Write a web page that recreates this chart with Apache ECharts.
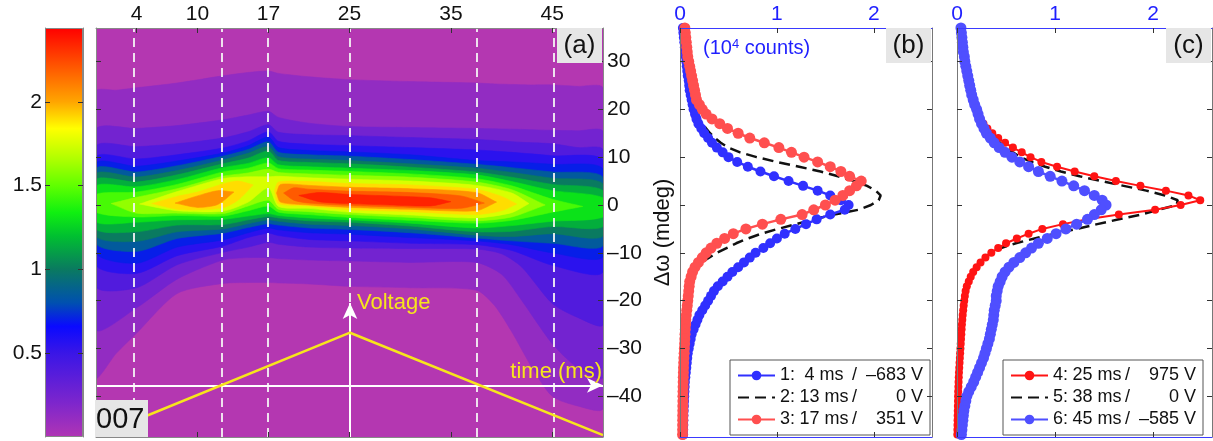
<!DOCTYPE html>
<html>
<head>
<meta charset="utf-8">
<script src="https://cdn.jsdelivr.net/npm/echarts@6.0.0/dist/echarts.min.js"></script>
<style>
  html, body { margin: 0; padding: 0; background: #fff; }
  #chart { width: 1213px; height: 441px; }
</style>
</head>
<body>
<div id="chart"></div>
<script>
// rocking-curve cuts: omega (mdeg) from top to bottom, intensity in 10^4 counts
const omega = [
  37, 36, 35, 34, 33, 32, 31, 30, 29, 28,
  27, 26, 25, 24, 23, 22, 21, 20, 19, 18,
  17, 16, 15, 14, 13, 12, 11, 10, 9, 8,
  7, 6, 5, 4, 3, 2, 1, 0, -1, -2,
  -3, -4, -5, -6, -7, -8, -9, -10, -11, -12,
  -13, -14, -15, -16, -17, -18, -19, -20, -21, -22,
  -23, -24, -25, -26, -27, -28, -29, -30, -31, -32,
  -33, -34, -35, -36, -37, -38, -39, -40, -41, -42,
  -43, -44, -45, -46, -47, -48
];
const cut4ms = [
  0.030, 0.035, 0.040, 0.045, 0.050, 0.055, 0.060, 0.065, 0.070, 0.075,
  0.080, 0.090, 0.095, 0.100, 0.110, 0.120, 0.130, 0.140, 0.155, 0.170,
  0.190, 0.220, 0.250, 0.290, 0.330, 0.380, 0.440, 0.500, 0.590, 0.700,
  0.830, 0.970, 1.120, 1.270, 1.420, 1.550, 1.660, 1.740, 1.700, 1.550,
  1.410, 1.300, 1.190, 1.080, 1.000, 0.930, 0.860, 0.780, 0.720, 0.660,
  0.600, 0.540, 0.490, 0.440, 0.390, 0.350, 0.320, 0.290, 0.260, 0.230,
  0.200, 0.180, 0.160, 0.140, 0.120, 0.110, 0.100, 0.090, 0.080, 0.075,
  0.070, 0.065, 0.060, 0.055, 0.050, 0.048, 0.046, 0.044, 0.042, 0.040,
  0.038, 0.036, 0.035, 0.034, 0.033, 0.032
];
const cut13ms = [
  0.040, 0.045, 0.050, 0.055, 0.060, 0.065, 0.070, 0.075, 0.080, 0.085,
  0.090, 0.100, 0.105, 0.110, 0.120, 0.130, 0.145, 0.160, 0.180, 0.200,
  0.230, 0.270, 0.310, 0.360, 0.420, 0.500, 0.620, 0.790, 1.000, 1.230,
  1.450, 1.630, 1.800, 1.930, 2.020, 2.070, 2.050, 1.970, 1.840, 1.590,
  1.380, 1.200, 1.010, 0.840, 0.700, 0.580, 0.480, 0.380, 0.300, 0.220,
  0.160, 0.130, 0.115, 0.100, 0.095, 0.090, 0.085, 0.080, 0.075, 0.070,
  0.065, 0.060, 0.058, 0.055, 0.052, 0.050, 0.048, 0.045, 0.043, 0.040,
  0.038, 0.036, 0.035, 0.034, 0.033, 0.032, 0.031, 0.030, 0.030, 0.029,
  0.029, 0.028, 0.028, 0.027, 0.027, 0.026
];
const cut17ms = [
  0.050, 0.055, 0.060, 0.065, 0.070, 0.075, 0.080, 0.090, 0.100, 0.110,
  0.120, 0.130, 0.140, 0.150, 0.160, 0.170, 0.200, 0.230, 0.270, 0.330,
  0.410, 0.490, 0.600, 0.720, 0.870, 1.020, 1.150, 1.280, 1.420, 1.550,
  1.660, 1.750, 1.870, 1.820, 1.750, 1.680, 1.600, 1.500, 1.380, 1.260,
  1.040, 0.850, 0.680, 0.550, 0.460, 0.380, 0.320, 0.270, 0.230, 0.190,
  0.155, 0.130, 0.115, 0.100, 0.095, 0.090, 0.085, 0.080, 0.075, 0.070,
  0.065, 0.060, 0.058, 0.055, 0.052, 0.050, 0.048, 0.045, 0.043, 0.040,
  0.038, 0.036, 0.035, 0.034, 0.033, 0.032, 0.031, 0.030, 0.030, 0.029,
  0.029, 0.028, 0.028, 0.027, 0.027, 0.026
];
const cut25ms = [
  0.040, 0.045, 0.050, 0.055, 0.060, 0.065, 0.070, 0.075, 0.080, 0.090,
  0.100, 0.110, 0.120, 0.135, 0.150, 0.165, 0.180, 0.195, 0.215, 0.240,
  0.270, 0.310, 0.360, 0.420, 0.490, 0.570, 0.660, 0.750, 0.860, 1.020,
  1.200, 1.400, 1.620, 1.870, 2.130, 2.360, 2.480, 2.280, 2.020, 1.650,
  1.330, 1.080, 0.870, 0.730, 0.610, 0.500, 0.420, 0.350, 0.290, 0.240,
  0.200, 0.165, 0.140, 0.120, 0.100, 0.088, 0.080, 0.074, 0.068, 0.063,
  0.058, 0.054, 0.050, 0.047, 0.044, 0.041, 0.038, 0.035, 0.032, 0.029,
  0.026, 0.023, 0.020, 0.018, 0.016, 0.014, 0.012, 0.011, 0.010, 0.009,
  0.008, 0.007, 0.006, 0.005, 0.004, 0.003
];
const cut38ms = [
  0.040, 0.045, 0.050, 0.055, 0.060, 0.065, 0.070, 0.075, 0.080, 0.090,
  0.100, 0.110, 0.120, 0.130, 0.145, 0.160, 0.175, 0.190, 0.210, 0.230,
  0.260, 0.290, 0.330, 0.380, 0.440, 0.500, 0.570, 0.650, 0.760, 0.900,
  1.060, 1.250, 1.470, 1.700, 1.930, 2.120, 2.250, 2.240, 2.050, 1.880,
  1.650, 1.430, 1.220, 1.000, 0.790, 0.600, 0.450, 0.350, 0.280, 0.230,
  0.190, 0.160, 0.135, 0.115, 0.100, 0.090, 0.082, 0.076, 0.071, 0.066,
  0.062, 0.058, 0.055, 0.052, 0.049, 0.046, 0.043, 0.040, 0.037, 0.034,
  0.032, 0.030, 0.028, 0.026, 0.024, 0.022, 0.021, 0.020, 0.019, 0.018,
  0.017, 0.016, 0.016, 0.015, 0.015, 0.014
];
const cut45ms = [
  0.040, 0.045, 0.050, 0.055, 0.060, 0.065, 0.075, 0.080, 0.090, 0.100,
  0.110, 0.120, 0.130, 0.140, 0.150, 0.165, 0.180, 0.200, 0.215, 0.230,
  0.250, 0.275, 0.300, 0.340, 0.380, 0.430, 0.490, 0.560, 0.640, 0.730,
  0.830, 0.950, 1.070, 1.190, 1.300, 1.400, 1.480, 1.520, 1.470, 1.400,
  1.330, 1.220, 1.110, 1.010, 0.920, 0.830, 0.760, 0.700, 0.640, 0.580,
  0.530, 0.490, 0.460, 0.440, 0.420, 0.410, 0.400, 0.400, 0.390, 0.380,
  0.375, 0.370, 0.360, 0.350, 0.340, 0.330, 0.315, 0.300, 0.285, 0.270,
  0.250, 0.230, 0.210, 0.190, 0.170, 0.145, 0.120, 0.100, 0.090, 0.080,
  0.070, 0.065, 0.060, 0.055, 0.050, 0.045
];
const legendTimes = ['4 ms', '13 ms', '17 ms', '25 ms', '38 ms', '45 ms'];
const legendVolts = ['\u2013683 V', '0 V', '351 V', '975 V', '0 V', '\u2013585 V'];

// axes
const timeTicks = [4, 10, 17, 25, 35, 45];
const omegaTicks = [-40, -30, -20, -10, 0, 10, 20, 30];
const countTicks = [0, 1, 2];
const cbarTicks = [0.5, 1, 1.5, 2];
const cbarMax = 2.44;

// marked cuts in the map
const cutTimes = [3.7, 12.4, 16.9, 25.05, 37.5, 45.1];
const cutNames = ['1', '2', '3', '4', '5', '6'];
const cutLabelW = 23.7;

// voltage sketch drawn in map coordinates
const voltT = [0, 25.05, 50];
const voltW = [-48.4, -26.7, -48.1];
const timeArrowW = -37.7;
const voltArrowTop = -20.5;

// contour bands of the map, each row: [time ms, upper omega, lower omega]
const levels = [0.12, 0.25, 0.4, 0.55, 0.7, 0.85, 1.0, 1.15, 1.3, 1.45, 1.6, 1.75, 1.9, 1.9, 2.05, 2.05, 2.2, 2.35];
const c01 = [[0, 23.7, -36], [2, 24, -31], [4, 24.5, -26.8], [8, 25.5, -18.5], [12.5, 27, -16.4], [15, 27.7, -16.2], [17, 28, -16.2], [18, 27.5, -16.3], [21, 26.8, -16.5], [25, 26.2, -17], [31, 25.8, -17.3], [37.5, 25.5, -17.8], [39.3, 25.3, -21], [41, 25.2, -26.5], [43, 25.1, -34], [45, 25.1, -40], [47.5, 24.8, -42], [50, 24.4, -42.5]];
const c02 = [[0, 15.7, -26], [4, 16.0, -21.5], [8, 16.6, -15.5], [12.5, 17.8, -11.5], [15, 18.8, -11], [17, 19.6, -11], [18, 18.3, -11.2], [21, 17.1, -11.5], [25, 16.4, -11.7], [31, 16.2, -12], [37.5, 16.0, -12], [40, 15.9, -14.5], [42, 15.8, -20], [45, 15.6, -29], [47.5, 15.5, -34], [50, 15.3, -36]];
const c03 = [[0, 12.2, -17], [4, 12.2, -17.3], [8, 12.8, -12.5], [12.5, 14, -9.9], [15, 15.3, -8.8], [17, 16.8, -7.8], [18, 15.2, -8.2], [21, 14.7, -8.8], [25, 14.5, -9.0], [31, 14.1, -9.1], [37.5, 13.7, -9.2], [40, 13.4, -10.2], [42, 13.1, -13], [45, 12.8, -20.6], [47.5, 12, -23.5], [50, 11.5, -25]];
const c04 = [[0, 10, -12.5], [4, 9.6, -14.3], [8, 10.5, -10.6], [12.5, 11.9, -8.6], [15, 13.4, -6.8], [17, 15.3, -5.9], [18, 13.3, -6.4], [21, 12.7, -7.2], [25, 12.4, -7.5], [31, 12, -8], [37.5, 11.5, -8.3], [41, 11, -9.5], [45, 10.3, -12.6], [50, 9.3, -14]];
const c05 = [[0, 8.7, -10], [4, 8.1, -12.2], [8, 9.2, -8.8], [12.5, 10.85, -7.3], [15, 12.4, -5.8], [17, 14.2, -4.8], [18, 12, -5.2], [21, 11.4, -5.8], [25, 11.1, -6.1], [31, 10.5, -6.8], [37.5, 9.3, -7.5], [41, 9, -8.3], [45, 8.5, -10], [50, 7.5, -10.8]];
const c06 = [[0, 7.6, -8], [4, 6.9, -9.7], [8, 8.2, -7], [12.5, 10.2, -5.9], [15, 11.6, -4.7], [17, 13.2, -3.9], [18, 11, -4.2], [21, 10.5, -4.8], [25, 10.2, -5.1], [31, 9.5, -5.8], [37.5, 8.5, -6.9], [41, 7.8, -7.5], [45, 6.9, -8], [50, 5.8, -8.5]];
const c07 = [[0, 6.5, -6.5], [4, 5.85, -7.6], [8, 7.2, -5.6], [12.5, 9.4, -5.0], [15, 10.8, -3.9], [17, 12.2, -3.1], [18, 10.1, -3.4], [21, 9.6, -4.0], [25, 9.3, -4.3], [31, 8.6, -5.0], [37.5, 7.7, -6.3], [41, 6.8, -6.6], [45, 5.6, -6.0], [50, 4.4, -6.5]];
const c08 = [[0, 5.3, -5], [4, 4.8, -5.6], [8, 6.3, -4.2], [12.5, 8.6, -4.1], [15, 9.8, -3.1], [17, 11.3, -2.4], [18, 9.3, -2.7], [21, 8.9, -3.3], [25, 8.6, -3.6], [31, 7.9, -4.4], [37.5, 6.9, -5.6], [41, 5.8, -5.5], [45, 4.3, -4.5], [50, 3.0, -4.5]];
const c09 = [[0, 4.0, -3.5], [4, 3.8, -3.6], [8, 5.3, -3.1], [12.5, 7.8, -3.0], [15, 8.7, -2.3], [17, 9.9, -1.8], [18, 8.4, -2.2], [21, 8.0, -2.7], [25, 7.7, -3.1], [31, 7.2, -3.8], [37.5, 6.3, -4.8], [41, 4.9, -4.3], [45, 3.0, -3.4], [50, 1.5, -2.5]];
const c10 = [[0, 2.2, -1.5], [4, 2.7, -2.5], [8, 4.3, -2.2], [12.5, 6.9, -2.3], [15, 7.7, -1.2], [17, 8.8, -0.2], [18, 7.6, -1.5], [21, 7.3, -2.0], [25, 7.0, -2.6], [31, 6.5, -3.2], [37.5, 5.5, -3.8], [41, 4.0, -3.2], [45, 1.2, -1.5], [48, -0.3, -0.3]];
const c11 = [[1.5, 0.3, 0.3], [4, 1.6, -1.7], [8, 3.4, -1.7], [12.5, 6.0, -1.8], [15, 6.7, -0.2], [17, 7.5, 1.0], [18, 6.8, -0.9], [21, 6.5, -1.4], [25, 6.2, -2.0], [31, 5.8, -2.6], [37.5, 4.8, -3.3], [41, 3.2, -2.5], [44.3, 0, 0]];
const c12 = [[4.3, 0.2, 0.2], [8, 2.8, -1.2], [12.5, 5.5, -1.3], [15, 5.9, 0.6], [17, 5.9, 3.6], [18, 6.0, -0.3], [21, 5.7, -0.7], [25, 5.4, -1.5], [31, 5.0, -2.1], [37.5, 4.1, -2.7], [41, 2.5, -1.6], [42.7, 0.3, 0.3]];
const c13a = [[5.5, 0.3, 0.3], [8, 1.8, -0.9], [10, 2.7, -1.0], [12.5, 4.4, -0.6], [14, 5.0, 1.0], [15.5, 4.2, 4.2]];
const c13b = [[17.6, 3.0, 3.0], [18, 4.8, 0.3], [21, 4.9, -0.2], [25, 4.5, -1.0], [31, 4.2, -1.4], [37.5, 3.3, -2.0], [40, 1.8, -1.2], [41.5, 0.2, 0.2]];
const c14a = [[7.8, 0.4, 0.4], [10, 1.9, -0.5], [12, 3.0, 0.1], [13.6, 2.7, 2.7]];
const c14b = [[17.8, 2.5, 2.5], [18.2, 4.3, 0.6], [21, 4.1, 0.0], [25, 3.7, -0.5], [31, 3.4, -0.9], [37.5, 2.6, -1.2], [39.5, 0.6, 0.6]];
const c15 = [[18.5, 2.5, 2.5], [19.5, 3.6, 1.0], [21, 3.3, 0.4], [25, 2.9, -0.1], [31, 2.6, -0.5], [36, 1.9, -0.7], [38.3, 0.4, 0.4]];
const c16 = [[20, 2.0, 2.0], [22, 2.6, 0.7], [25, 2.2, 0.3], [29, 1.9, 0.0], [33, 1.5, -0.2], [35, 0.7, 0.7]];
const contourShapes = [c01, c02, c03, c04, c05, c06, c07, c08, c09, c10, c11, c12, c13a, c13b, c14a, c14b, c15, c16];

// colour map
const cmapStops = [
  [0, '#b035b4'], [0.2, '#7e26cc'], [0.5, '#3a16e6'], [0.66, '#0a0aff'], [0.8, '#0050b0'],
  [1.0, '#0a7a60'], [1.2, '#00c030'], [1.34, '#10f010'], [1.5, '#60ff00'], [1.66, '#b0ff00'],
  [1.84, '#ffff00'], [2.0, '#ffa500'], [2.2, '#ff5a00'], [2.44, '#ff0000']
];
function hexRgb(h) {
  return [parseInt(h.slice(1, 3), 16), parseInt(h.slice(3, 5), 16), parseInt(h.slice(5, 7), 16)];
}
function cmap(v) {
  for (let i = 1; i < cmapStops.length; i++) {
    if (v <= cmapStops[i][0]) {
      const f = (v - cmapStops[i - 1][0]) / (cmapStops[i][0] - cmapStops[i - 1][0]);
      const a = hexRgb(cmapStops[i - 1][1]), b = hexRgb(cmapStops[i][1]);
      return 'rgb(' + a.map((x, k) => Math.round(x + (b[k] - x) * f)).join(',') + ')';
    }
  }
  return cmapStops[cmapStops.length - 1][1];
}

const font = 'Liberation Sans';
const dash = v => (v < 0 ? '\u2013' + Math.abs(v) : String(v));

function tickOnly(gridIndex, position, min, max, ticks, lineColor) {
  return {
    type: 'value', gridIndex: gridIndex, position: position, min: min, max: max, z: 10,
    axisLine: { show: true, onZero: false, lineStyle: { color: lineColor, width: 1 } },
    axisTick: { show: true, inside: true, length: 5, customValues: ticks, lineStyle: { color: '#333' } },
    axisLabel: { show: false },
    splitLine: { show: false }
  };
}

const chart = echarts.init(document.getElementById('chart'));

const xAxes = [
  { type: 'category', gridIndex: 0, data: ['cb'], show: false },
  Object.assign(tickOnly(1, 'top', 0, 50, timeTicks, '#888'), {
    axisLabel: { show: true, customValues: timeTicks, fontSize: 21, color: '#111', margin: 3, fontFamily: font }
  }),
  tickOnly(1, 'bottom', 0, 50, timeTicks, '#888'),
  Object.assign(tickOnly(2, 'top', 0, 2.6, countTicks, '#3a3aff'), {
    axisLabel: { show: true, customValues: countTicks, fontSize: 21, color: '#1f1fff', margin: 3, fontFamily: font }
  }),
  tickOnly(2, 'bottom', 0, 2.6, countTicks, '#3a3aff'),
  Object.assign(tickOnly(3, 'top', 0, 2.6, countTicks, '#3a3aff'), {
    axisLabel: { show: true, customValues: countTicks, fontSize: 21, color: '#1f1fff', margin: 3, fontFamily: font }
  }),
  tickOnly(3, 'bottom', 0, 2.6, countTicks, '#3a3aff')
];

const yAxes = [
  Object.assign(tickOnly(0, 'left', 0, cbarMax, cbarTicks, '#888'), {
    axisLabel: { show: true, customValues: cbarTicks, fontSize: 21, color: '#111', margin: 3, fontFamily: font }
  }),
  tickOnly(0, 'right', 0, cbarMax, cbarTicks, '#888'),
  Object.assign(tickOnly(1, 'right', -48.5, 37, omegaTicks, '#888'), {
    axisLabel: { show: true, customValues: omegaTicks, fontSize: 21, color: '#111', margin: 4, fontFamily: font, formatter: dash }
  }),
  tickOnly(1, 'left', -48.5, 37, omegaTicks, '#888'),
  Object.assign(tickOnly(2, 'left', -48.5, 37, omegaTicks, '#777'), {
    name: '\u0394\u03c9 (mdeg)', nameLocation: 'middle', nameRotate: 90, nameGap: 6,
    nameTextStyle: { fontSize: 22, color: '#111', fontFamily: font }
  }),
  tickOnly(2, 'right', -48.5, 37, omegaTicks, '#777'),
  tickOnly(3, 'left', -48.5, 37, omegaTicks, '#777'),
  tickOnly(3, 'right', -48.5, 37, omegaTicks, '#777')
];

function cutSeries(name, vals, color, size, width, xi, yi) {
  return {
    name: name, type: 'line', xAxisIndex: xi, yAxisIndex: yi,
    data: omega.map((w, i) => [vals[i], w]),
    symbol: 'circle', symbolSize: size, showAllSymbol: true,
    lineStyle: { color: color, width: width }, itemStyle: { color: color }
  };
}
function dashedSeries(name, vals, xi, yi) {
  return {
    name: name, type: 'line', xAxisIndex: xi, yAxisIndex: yi,
    data: omega.map((w, i) => [vals[i], w]),
    symbol: 'circle', showSymbol: false,
    lineStyle: { color: '#111', width: 2.5, type: [11, 6] }, itemStyle: { color: 'rgba(0,0,0,0)' }
  };
}

function legendFor(names, left) {
  return {
    data: names, left: left, top: 360, orient: 'vertical',
    itemWidth: 37, itemHeight: 12, itemGap: 1, padding: [5, 7, 5, 7],
    backgroundColor: '#fff', borderColor: '#555', borderWidth: 1, borderRadius: 0,
    formatter: function (name) {
      const k = Number(name) - 1;
      return '{i|' + name + ':}{t|' + legendTimes[k] + '}{s|/}{v|' + legendVolts[k] + '}';
    },
    textStyle: {
      fontSize: 18, color: '#111', fontFamily: font, lineHeight: 21,
      rich: {
        i: { width: 20, fontSize: 18, fontFamily: font, color: '#111' },
        t: { width: 48, align: 'right', fontSize: 18, fontFamily: font, color: '#111' },
        s: { width: 13, align: 'center', fontSize: 18, fontFamily: font, color: '#111' },
        v: { width: 62, align: 'right', fontSize: 18, fontFamily: font, color: '#111' }
      }
    }
  };
}

const arrowLine = { color: '#fff', width: 2, type: 'solid' };

const option = {
  animation: false,
  backgroundColor: '#fff',
  textStyle: { fontFamily: font },
  grid: [
    { left: 45, top: 28, width: 38, height: 409 },
    { left: 96, top: 28, width: 507, height: 409, show: true, backgroundColor: '#b437b1', borderWidth: 0 },
    { left: 680, top: 28, width: 252, height: 409 },
    { left: 957, top: 28, width: 255, height: 409 }
  ],
  xAxis: xAxes,
  yAxis: yAxes,
  legend: [legendFor(['1', '2', '3'], 730), legendFor(['4', '5', '6'], 1003)],
  series: [
    {
      type: 'bar', xAxisIndex: 0, yAxisIndex: 0, data: [cbarMax], barWidth: '100%', silent: true,
      itemStyle: {
        color: new echarts.graphic.LinearGradient(0, 1, 0, 0,
          cmapStops.map(s => ({ offset: s[0] / cbarMax, color: s[1] }))),
        borderColor: '#888', borderWidth: 1
      }
    },
    {
      type: 'custom', xAxisIndex: 1, yAxisIndex: 2, clip: true, silent: true, z: 2,
      data: contourShapes.map((rows, i) => [rows[0][0], rows[0][1], i]),
      renderItem: function (params, api) {
        const rows = contourShapes[params.dataIndex];
        const upper = rows.map(r => api.coord([r[0], r[1]]));
        const lower = rows.slice().reverse().map(r => api.coord([r[0], r[2]]));
        const col = cmap(levels[params.dataIndex]);
        return { type: 'polygon', shape: { points: upper.concat(lower), smooth: 0.25 }, style: { fill: col, stroke: col, lineWidth: 0.6 } };
      }
    },
    {
      type: 'line', xAxisIndex: 1, yAxisIndex: 2, z: 5, silent: true,
      data: voltT.map((t, i) => [t, voltW[i]]),
      symbol: 'none', lineStyle: { color: '#f7e51c', width: 2.5 },
      markLine: {
        silent: true, symbol: 'none', symbolSize: [11, 16], label: { show: false },
        data: cutTimes.map(t => ({ xAxis: t, lineStyle: { color: '#f4f4f4', width: 1.8, type: [9, 6] } })).concat([
          [{ coord: [0, timeArrowW], symbol: 'none', lineStyle: arrowLine }, { coord: [50, timeArrowW], symbol: 'arrow', lineStyle: arrowLine }],
          [{ coord: [cutTimes[3], -48.5], symbol: 'none', lineStyle: arrowLine }, { coord: [cutTimes[3], voltArrowTop], symbol: 'arrow', lineStyle: arrowLine }]
        ])
      }
    },
    {
      type: 'scatter', xAxisIndex: 1, yAxisIndex: 2, z: 6, silent: true,
      data: cutTimes.map(t => [t, cutLabelW]), symbolSize: 1, itemStyle: { opacity: 0 },
      label: {
        show: true, position: 'right', distance: 6, color: '#fff', fontSize: 21, fontFamily: font,
        formatter: p => cutNames[p.dataIndex]
      }
    },
    dashedSeries('2', cut13ms, 3, 4),
    cutSeries('1', cut4ms, '#3030ff', 10, 2.5, 3, 4),
    cutSeries('3', cut17ms, '#ff4f4f', 11, 2.5, 3, 4),
    dashedSeries('5', cut38ms, 5, 6),
    cutSeries('4', cut25ms, '#ff1414', 8, 2, 5, 6),
    cutSeries('6', cut45ms, '#4f4fff', 11, 2.5, 5, 6)
  ],
  graphic: [
    { type: 'rect', z: 100, shape: { x: 557, y: 28, width: 45, height: 35 }, style: { fill: '#e6e6e6' } },
    { type: 'text', z: 101, x: 579.5, y: 46, style: { text: '(a)', fontSize: 26, fontFamily: font, fill: '#111', textAlign: 'center', textVerticalAlign: 'middle' } },
    { type: 'rect', z: 100, shape: { x: 886, y: 28, width: 45, height: 35 }, style: { fill: '#e6e6e6' } },
    { type: 'text', z: 101, x: 908.5, y: 46, style: { text: '(b)', fontSize: 26, fontFamily: font, fill: '#111', textAlign: 'center', textVerticalAlign: 'middle' } },
    { type: 'rect', z: 100, shape: { x: 1166, y: 28, width: 45, height: 35 }, style: { fill: '#e6e6e6' } },
    { type: 'text', z: 101, x: 1188.5, y: 46, style: { text: '(c)', fontSize: 26, fontFamily: font, fill: '#111', textAlign: 'center', textVerticalAlign: 'middle' } },
    { type: 'rect', z: 100, shape: { x: 95, y: 400, width: 53, height: 37 }, style: { fill: '#e6e6e6' } },
    { type: 'text', z: 101, x: 96, y: 420, style: { text: '007', fontSize: 29, fontFamily: font, fill: '#111', textAlign: 'left', textVerticalAlign: 'middle' } },
    { type: 'text', z: 101, x: 357, y: 303, style: { text: 'Voltage', fontSize: 22, fontFamily: font, fill: '#f7e51c', textAlign: 'left', textVerticalAlign: 'middle' } },
    { type: 'text', z: 101, x: 602, y: 372, style: { text: 'time (ms)', fontSize: 22, fontFamily: font, fill: '#f7e51c', textAlign: 'right', textVerticalAlign: 'middle' } },
    {
      type: 'text', z: 101, x: 703, y: 48,
      style: {
        text: '{a|(10}{s|4}{a| counts)}', textVerticalAlign: 'middle',
        rich: {
          a: { fontSize: 20, fontFamily: font, fill: '#1f1fff' },
          s: { fontSize: 13, fontFamily: font, fill: '#1f1fff', verticalAlign: 'top' }
        }
      }
    }
  ]
};

chart.setOption(option);
</script>
</body>
</html>
